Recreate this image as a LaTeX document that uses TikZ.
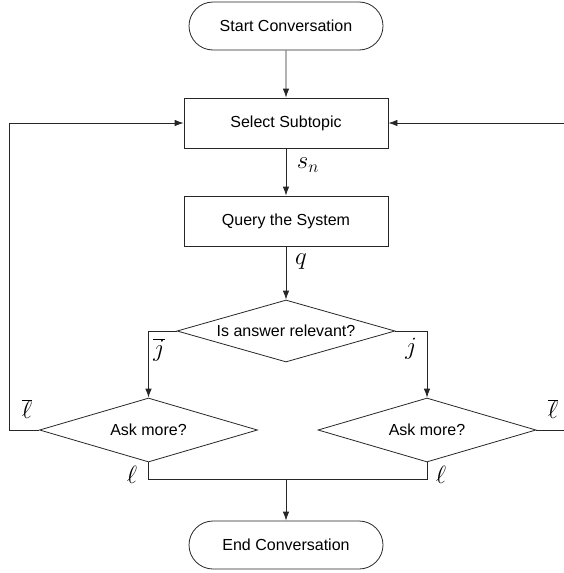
\documentclass[tikz,border=0pt]{standalone}
\usepackage{fontspec}
\setsansfont{Liberation Sans}
\usetikzlibrary{shapes.geometric,shapes.misc,arrows.meta}
\begin{document}
\begin{tikzpicture}[x=1pt,y=-1pt,
  base/.style={draw=black!85,line width=0.8pt,font=\sffamily\fontsize{16}{19}\selectfont,inner sep=0pt},
  term/.style={base,rounded rectangle,minimum width=194pt,minimum height=48pt},
  proc/.style={base,rectangle,minimum width=204pt,minimum height=50pt},
  dec/.style={base,diamond,aspect=3.3,minimum width=218pt,minimum height=62pt},
  conn/.style={draw=black!85,line width=0.8pt},
  arr/.style={conn,-{Latex[length=9pt,width=6.5pt]}},
  lab/.style={font=\fontsize{23}{26}\selectfont,inner sep=0pt}]
\useasboundingbox (0,0) rectangle (564,573);
\node[term] (start) at (286,26) {Start Conversation};
\node[proc] (select) at (286,123) {Select Subtopic};
\node[proc] (query) at (286,221) {Query the System};
\node[dec] (rel) at (286,331) {Is answer relevant?};
\node[dec,minimum height=64pt] (askL) at (148.5,430) {Ask more?};
\node[dec,minimum height=64pt] (askR) at (427,430) {Ask more?};
\node[term] (end) at (286,545) {End Conversation};
\coordinate (lc) at (9,430);
\coordinate (rc) at (564,430);
\coordinate (jl) at (148.5,331);
\coordinate (jr) at (427,331);
\coordinate (bl) at (148.5,479);
\coordinate (br) at (427,479);
\coordinate (bm) at (286,479);
\draw[arr] (start) -- (select);
\draw[arr] (select) -- (query);
\draw[arr] (query) -- (rel);
\draw[arr] (rel.west) -- (jl) -- (askL.north);
\draw[arr] (rel.east) -- (jr) -- (askR.north);
\draw[arr] (askL.west) -- (lc) |- (select.west);
\draw[arr] (askR.east) -- (rc) |- (select.east);
\draw[conn] (askL.south) -- (bl) -- (br) -- (askR.south);
\draw[arr] (bm) -- (end);
\node[lab] (sn) at (308,165) {$s_n$};
\node[lab] (q) at (301,262) {$q$};
\node[lab] (jb) at (159,350) {$\overline{j}$};
\node[lab] (j) at (411,349) {$j$};
\node[lab] (lbl) at (27,409) {$\overline{\ell}$};
\node[lab] (lbr) at (553,409) {$\overline{\ell}$};
\node[lab] (ll) at (132,475) {$\ell$};
\node[lab] (lr) at (441,475) {$\ell$};
\end{tikzpicture}
\end{document}
